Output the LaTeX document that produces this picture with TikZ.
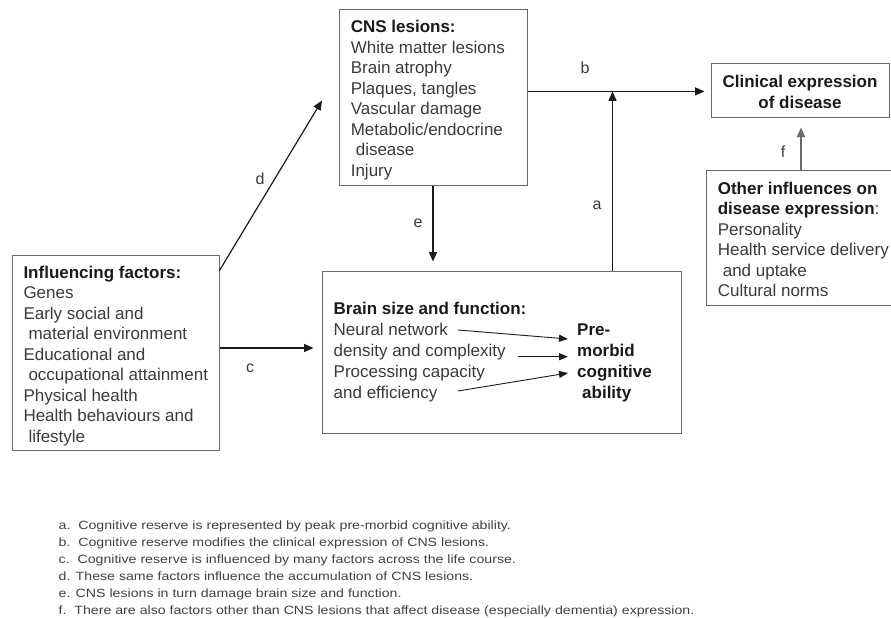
\documentclass[tikz,border=0pt]{standalone}
\usepackage{fontspec}
\setmainfont{Liberation Sans}
\newfontfamily\notefont[FakeStretch=1.18]{Liberation Sans}
\usetikzlibrary{arrows.meta}
\definecolor{boxc}{HTML}{6A6A6A}
\definecolor{txtc}{HTML}{3A3A3A}
\definecolor{headc}{HTML}{1A1A1A}
\definecolor{arrc}{HTML}{1A1A1A}
\definecolor{notec}{HTML}{404040}
\newcommand\ind{\hspace*{5pt}}
\newcommand\hd[1]{\textbf{\color{headc}#1}}
\begin{document}
\begin{tikzpicture}[x=1pt,y=-1pt,
  boxnode/.style={draw=boxc, line width=1pt, inner sep=0pt},
  txt/.style={anchor=base west, inner sep=0pt, text=txtc, font={\fontsize{17}{20.5}\selectfont}},
  arr/.style={draw=arrc, line width=1.2pt, -{Triangle[length=9.5pt,width=8pt]}},
  thinarr/.style={draw=arrc, line width=0.9pt, -{Triangle[length=9pt,width=7pt]}},
  lab/.style={text=txtc, inner sep=0pt, font={\fontsize{16}{18}\selectfont}}]
\useasboundingbox (0,0) rectangle (891,618);

% boxes
\node[boxnode, minimum width=188pt, minimum height=175pt] (cns) at (433,97.5) {};
\node[boxnode, minimum width=178pt, minimum height=53pt] (clin) at (800,90.5) {};
\node[boxnode, minimum width=190pt, minimum height=135pt] (other) at (801,237.5) {};
\node[boxnode, minimum width=206.5pt, minimum height=195pt] (infl) at (115.75,352.5) {};
\node[boxnode, minimum width=359pt, minimum height=162pt] (brain) at (501.5,352) {};

% texts
\node[txt] (cnsT) at (350.6,33) {\begin{tabular}[t]{@{}l@{}}\hd{CNS lesions:}\\White matter lesions\\Brain atrophy\\Plaques, tangles\\Vascular damage\\Metabolic/endocrine\\\ind disease\\Injury\end{tabular}};
\node[txt, anchor=base] (clinT) at (800,87.6) {\begin{tabular}[t]{@{}c@{}}\hd{Clinical expression}\\\hd{of disease}\end{tabular}};
\node[txt] (otherT) at (717.6,194) {\begin{tabular}[t]{@{}l@{}}\hd{Other influences on}\\\hd{disease expression}:\\Personality\\Health service delivery\\\ind and uptake\\Cultural norms\end{tabular}};
\node[txt] (inflT) at (23.3,278) {\begin{tabular}[t]{@{}l@{}}\hd{Influencing factors:}\\Genes\\Early social and\\\ind material environment\\Educational and\\\ind occupational attainment\\Physical health\\Health behaviours and\\\ind lifestyle\end{tabular}};
\node[txt, font={\fontsize{17}{21}\selectfont}] (brainT) at (333.5,314) {\begin{tabular}[t]{@{}l@{}}\hd{Brain size and function:}\\Neural network\\density and complexity\\Processing capacity\\and efficiency\end{tabular}};
\node[txt, font={\fontsize{17}{21}\selectfont}] (premT) at (577,335) {\begin{tabular}[t]{@{}l@{}}\hd{Pre-}\\\hd{morbid}\\\hd{cognitive}\\\ind\hd{ability}\end{tabular}};

% coordinates
\coordinate (yb) at (0,91.4);
\coordinate (ax) at (612.5,91.4);
\coordinate (ds) at (219.3,270.8);
\coordinate (de) at (322,100.5);
\coordinate (cy) at (0,348);
\coordinate (n1s) at (458,330);
\coordinate (n1e) at (568,339);
\coordinate (n2s) at (518,356.7);
\coordinate (n2e) at (568,356.7);
\coordinate (n3s) at (458,391);
\coordinate (n3e) at (568,373);

% connectors
\draw[arr, shorten >=6pt] (cns.east |- yb) -- (clin.west |- yb);
\draw[arr] (brain.north -| ax) -- (ax);
\draw[arr, shorten >=9pt] (cns.south) -- (cns.south |- brain.north);
\draw[arr] (ds) -- (de);
\draw[arr, shorten >=8pt] (infl.east |- cy) -- (brain.west |- cy);
\draw[arr, draw=boxc, shorten >=10pt] (other.north) -- (other.north |- clin.south);
\draw[thinarr] (n1s) -- (n1e);
\draw[thinarr] (n2s) -- (n2e);
\draw[thinarr] (n3s) -- (n3e);

% labels
\node[lab] (lb) at (585,68) {b};
\node[lab] (la) at (597,205) {a};
\node[lab] (lf) at (783,152) {f};
\node[lab] (le) at (418,223) {e};
\node[lab] (ld) at (260,179) {d};
\node[lab] (lc) at (250,368) {c};

% notes
\node[anchor=base west, inner sep=0pt, text=notec, font={\notefont\fontsize{12}{17}\selectfont}] (notes) at (58.5,529) {\begin{tabular}[t]{@{}l@{}}a.\ \ Cognitive reserve is represented by peak pre-morbid cognitive ability.\\b.\ \ Cognitive reserve modifies the clinical expression of CNS lesions.\\c.\ \ Cognitive reserve is influenced by many factors across the life course.\\d. These same factors influence the accumulation of CNS lesions.\\e. CNS lesions in turn damage brain size and function.\\f.\ \ There are also factors other than CNS lesions that affect disease (especially dementia) expression.\end{tabular}};
\end{tikzpicture}
\end{document}
